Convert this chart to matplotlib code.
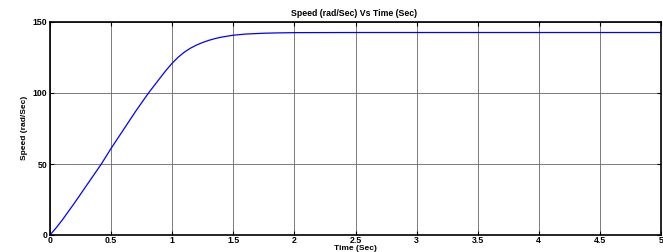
import matplotlib
matplotlib.use('Agg')
import matplotlib.pyplot as plt

# speed response
time_s = [0, 0.05, 0.1, 0.2, 0.3, 0.42, 0.5, 0.6, 0.7, 0.806, 0.9, 0.95,
          1.0, 1.05, 1.1, 1.15, 1.2, 1.25, 1.3, 1.35, 1.4, 1.5, 1.6, 1.75,
          1.85, 2.0, 2.5, 3.0, 4.0, 5.0]
speed = [0, 5, 10.5, 22.5, 35, 50, 61, 74, 87, 100, 110.5, 116,
         121, 125.3, 128.8, 131.6, 133.8, 135.6, 137.1, 138.3, 139.3, 140.7, 141.5, 142.1,
         142.3, 142.5, 142.6, 142.6, 142.6, 142.6]

x_ticks = [0, 0.5, 1, 1.5, 2, 2.5, 3, 3.5, 4, 4.5, 5]
x_labels = ['0', '0.5', '1', '1.5', '2', '2.5', '3', '3.5', '4', '4.5', '5']
y_ticks = [0, 50, 100, 150]

plt.rcParams['font.family'] = ['Liberation Sans', 'DejaVu Sans']
plt.rcParams['font.weight'] = 'bold'

fig = plt.figure(figsize=(6.63, 2.52), dpi=100)
ax = fig.add_axes([50 / 663, 17 / 252, 611 / 663, 213 / 252])

ax.plot(time_s, speed, color='#0000ff', linewidth=0.9)

ax.set_xlim(0, 5)
ax.set_ylim(0, 150)
ax.set_xticks(x_ticks)
ax.set_xticklabels(x_labels)
ax.set_yticks(y_ticks)
ax.grid(True, color='#666666', linewidth=0.6)
ax.tick_params(direction='in', top=True, right=True, length=3, width=0.8,
               labelsize=6.3, pad=2)
ax.tick_params(axis='x', pad=0.5)
for s in ax.spines.values():
    s.set_linewidth(1.2)

fig.text(354 / 663, 1 - 14 / 252, 'Speed (rad/Sec) Vs Time (Sec)', ha='center',
         va='center', fontsize=6.3, fontweight='bold')
fig.text(355 / 663, 1 - 251.5 / 252, 'Time (Sec)', ha='center', va='bottom',
         fontsize=6, fontweight='bold')
fig.text(25 / 663, 1 - 128 / 252, 'Speed (rad/Sec)', ha='center', va='center',
         rotation=90, fontsize=6, fontweight='bold')

fig.savefig('out.png', dpi=100)
